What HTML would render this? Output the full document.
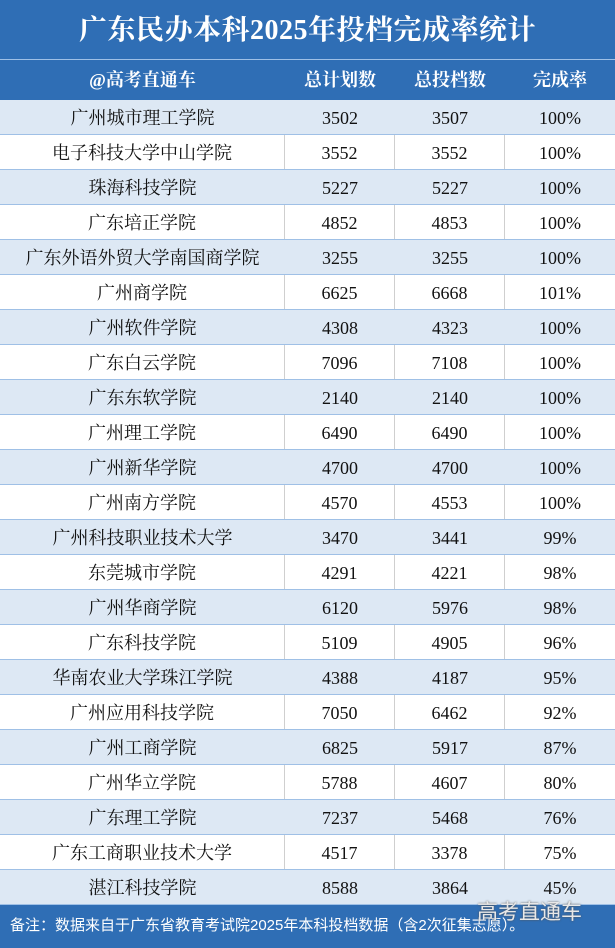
<!DOCTYPE html>
<html><head><meta charset="utf-8"><style>
body{margin:0;width:615px;height:948px;background:#fff;font-family:"Liberation Serif","Noto Serif CJK SC",serif;overflow:hidden;position:relative}
.title{position:absolute;left:0;top:0;width:615px;height:59px;background:#2f6eb5;color:#fff;font-size:28px;letter-spacing:0.5px;line-height:62px;text-align:center;font-weight:bold;border-bottom:1px solid #9fc0e6}
.hdr{position:absolute;left:0;top:60px;width:615px;height:40px;background:#2f6eb5;color:#fff;font-size:18px;font-weight:bold}
.hdr div,.row div{position:absolute;top:0;height:100%;text-align:center}
.hdr div{line-height:40px}
.row{position:absolute;left:0;width:615px;height:34px;border-bottom:1px solid #9fc0e6;font-size:18px;color:#111}
.row div{line-height:36px;border-right:1px solid #cfcfcf;box-sizing:border-box}
.row.a{background:#dde8f4}
.row.a div{border-right:none}
.c1{left:0;width:285px}.c2{left:285px;width:110px}.c3{left:395px;width:110px}.c4{left:505px;width:110px;border-right:none!important}
.foot{position:absolute;left:0;top:905px;width:615px;height:43px;background:#2f6eb5;color:#fff;font-size:15px;line-height:42px;padding-left:10px;box-sizing:border-box;font-family:"Liberation Sans","Noto Sans CJK SC",sans-serif}
.wm{position:absolute;left:477px;top:896px;color:#e8e8e8;font-size:21px;font-family:"Liberation Sans","Noto Sans CJK SC",sans-serif;text-shadow:0 0 2px #555}
</style></head><body>
<div class="title">广东民办本科2025年投档完成率统计</div>
<div class="hdr"><div class="c1">@高考直通车</div><div class="c2">总计划数</div><div class="c3">总投档数</div><div class="c4">完成率</div></div>
<div id="rows"></div>
<div class="foot">备注：数据来自于广东省教育考试院2025年本科投档数据（含2次征集志愿）。</div>
<div class="wm">高考直通车</div>
<script>
var d=[["广州城市理工学院",3502,3507,"100%"],["电子科技大学中山学院",3552,3552,"100%"],["珠海科技学院",5227,5227,"100%"],["广东培正学院",4852,4853,"100%"],["广东外语外贸大学南国商学院",3255,3255,"100%"],["广州商学院",6625,6668,"101%"],["广州软件学院",4308,4323,"100%"],["广东白云学院",7096,7108,"100%"],["广东东软学院",2140,2140,"100%"],["广州理工学院",6490,6490,"100%"],["广州新华学院",4700,4700,"100%"],["广州南方学院",4570,4553,"100%"],["广州科技职业技术大学",3470,3441,"99%"],["东莞城市学院",4291,4221,"98%"],["广州华商学院",6120,5976,"98%"],["广东科技学院",5109,4905,"96%"],["华南农业大学珠江学院",4388,4187,"95%"],["广州应用科技学院",7050,6462,"92%"],["广州工商学院",6825,5917,"87%"],["广州华立学院",5788,4607,"80%"],["广东理工学院",7237,5468,"76%"],["广东工商职业技术大学",4517,3378,"75%"],["湛江科技学院",8588,3864,"45%"]];
var h="";d.forEach(function(r,i){h+='<div class="row'+(i%2==0?' a':'')+'" style="top:'+(100+i*35)+'px"><div class="c1">'+r[0]+'</div><div class="c2">'+r[1]+'</div><div class="c3">'+r[2]+'</div><div class="c4">'+r[3]+'</div></div>';});
document.getElementById("rows").innerHTML=h;
</script>
</body></html>
